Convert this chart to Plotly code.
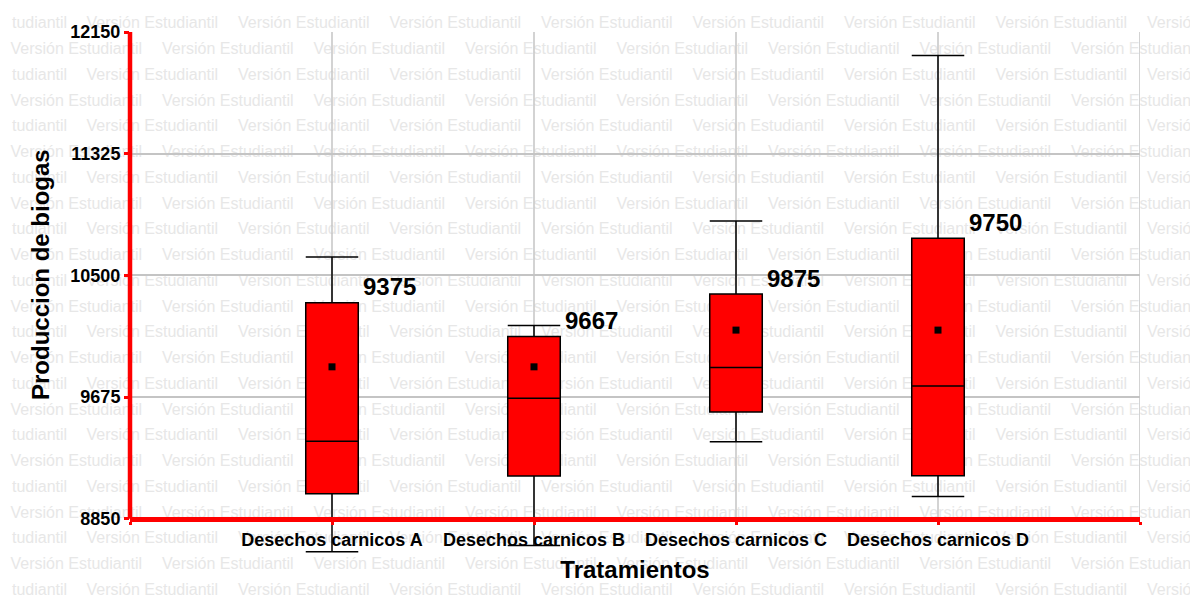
import plotly.graph_objects as go

# ---------------- data ----------------
categories = ["Desechos carnicos A", "Desechos carnicos B",
              "Desechos carnicos C", "Desechos carnicos D"]
positions = [1, 2, 3, 4]
lower_whisker = [8627, 8669, 9372, 9001]
q1_values = [9020, 9139, 9573, 9141]
medians = [9375, 9667, 9875, 9750]
q3_values = [10314, 10085, 10373, 10752]
upper_whisker = [10625, 10160, 10869, 11990]
means = [9880, 9880, 10129, 10129]
median_labels = ["9375", "9667", "9875", "9750"]
y_ticks = [8850, 9675, 10500, 11325, 12150]
y_tick_labels = ["8850", "9675", "10500", "11325", "12150"]
x_title = "Tratamientos"
y_title = "Produccion de biogas"
watermark_text = "Versión Estudiantil"
watermark_tail = "tudiantil"

# ---------------- layout constants ----------------
W, H = 1190, 596
ML, MR, MT, MB = 130, 50, 32, 33
X_MIN, X_MAX = 0, 5
AXIS_Y = y_ticks[0]
Y_MIN, Y_MAX = 8550, y_ticks[-1]     # extra room so whiskers can pass below the axis
BOX_W = 0.26
FONT = "Liberation Sans, Arial, sans-serif"
RED = "#ff0000"
GRID = "#c4c4c4"
WM_COLOR = "#e7e7e7"

plot_w = W - ML - MR
plot_h = H - MT - MB


def px_to_paper_x(px):
    return (px - ML) / plot_w


def py_to_paper_y(py):
    return 1 - (py - MT) / plot_h


fig = go.Figure()

# ---------------- watermark (background text grid, drawn below everything) ----------------
def add_watermark(x_left, cy, text):
    x_left -= 3.5
    cy -= 1.0
    fig.add_shape(
        type="rect", xref="paper", yref="paper", layer="below",
        x0=px_to_paper_x(x_left), x1=px_to_paper_x(x_left + 140),
        y0=py_to_paper_y(cy + 9), y1=py_to_paper_y(cy - 9),
        line=dict(width=0), fillcolor="rgba(0,0,0,0)",
        label=dict(text=text, textposition="middle left", padding=0,
                   font=dict(family=FONT, size=16, color=WM_COLOR)))


for k in range(23):
    cy = 21.8 + 25.75 * k
    if k % 2 == 0:
        add_watermark(12.5, cy, watermark_tail)
        starts = [87 + 151.5 * j for j in range(8)]
    else:
        starts = [11 + 151.5 * j for j in range(8)]
    for s in starts:
        add_watermark(s, cy, watermark_text)

fig.add_trace(go.Box(
    x=positions, q1=q1_values, median=medians, q3=q3_values,
    lowerfence=lower_whisker, upperfence=upper_whisker,
    width=BOX_W, whiskerwidth=1, boxpoints=False,
    fillcolor=RED, line=dict(color="black", width=1.5),
    showlegend=False, hoverinfo="skip"))

fig.add_trace(go.Scatter(
    x=positions, y=means, mode="markers",
    marker=dict(symbol="square", size=7, color="black"),
    showlegend=False, hoverinfo="skip"))

# median value labels
for p, q3, lab in zip(positions, q3_values, median_labels):
    fig.add_annotation(x=p + BOX_W / 2, y=q3, text=lab, showarrow=False,
                       xanchor="left", yanchor="middle", xshift=3, yshift=16,
                       font=dict(family=FONT, size=24, color="black", weight="bold"))

# y axis title, centred on the visible axis span (8850..12150)
fig.add_annotation(xref="paper", yref="paper",
                   x=px_to_paper_x(40), y=py_to_paper_y(275),
                   xanchor="center", yanchor="middle", textangle=-90,
                   text=y_title, showarrow=False,
                   font=dict(family=FONT, size=24, color="black", weight="bold"))

# vertical grid lines (stop at the x axis)
for gx in positions + [X_MAX]:
    fig.add_shape(type="line", xref="x", yref="y", x0=gx, x1=gx, y0=AXIS_Y, y1=Y_MAX,
                  line=dict(color=GRID, width=1.5), layer="below")

# red y axis line
fig.add_shape(type="line", xref="paper", yref="y", x0=0, x1=0, y0=AXIS_Y, y1=Y_MAX,
              line=dict(color=RED, width=4.5), layer="above")

fig.update_layout(
    template="none",
    width=W, height=H,
    margin=dict(l=ML, r=MR, t=MT, b=MB, pad=0),
    paper_bgcolor="white", plot_bgcolor="rgba(0,0,0,0)",
    showlegend=False,
    font=dict(family=FONT, color="black"),
    xaxis=dict(
        range=[X_MIN, X_MAX], tickmode="array",
        tickvals=[X_MIN] + positions + [X_MAX], ticktext=[""] + categories + [""],
        anchor="free", position=(AXIS_Y - Y_MIN) / (Y_MAX - Y_MIN),
        showline=True, linecolor=RED, linewidth=4.5,
        ticks="outside", tickcolor=RED, ticklen=3, tickwidth=3,
        showgrid=False, zeroline=False, automargin=False,
        tickfont=dict(family=FONT, size=18, color="black", weight="bold"),
        title=dict(text=x_title, standoff=12,
                   font=dict(family=FONT, size=24, color="black", weight="bold")),
    ),
    yaxis=dict(
        range=[Y_MIN, Y_MAX], tickmode="array",
        tickvals=y_ticks, ticktext=y_tick_labels,
        showline=False, ticks="outside", tickcolor=RED, ticklen=5, tickwidth=3,
        showgrid=True, gridcolor=GRID, gridwidth=1.5, zeroline=False, automargin=False,
        tickfont=dict(family=FONT, size=18, color="black", weight="bold"),
    ),
)

fig.write_html("out.html", config={"displayModeBar": False},
               post_script="document.body.style.margin='0';")
